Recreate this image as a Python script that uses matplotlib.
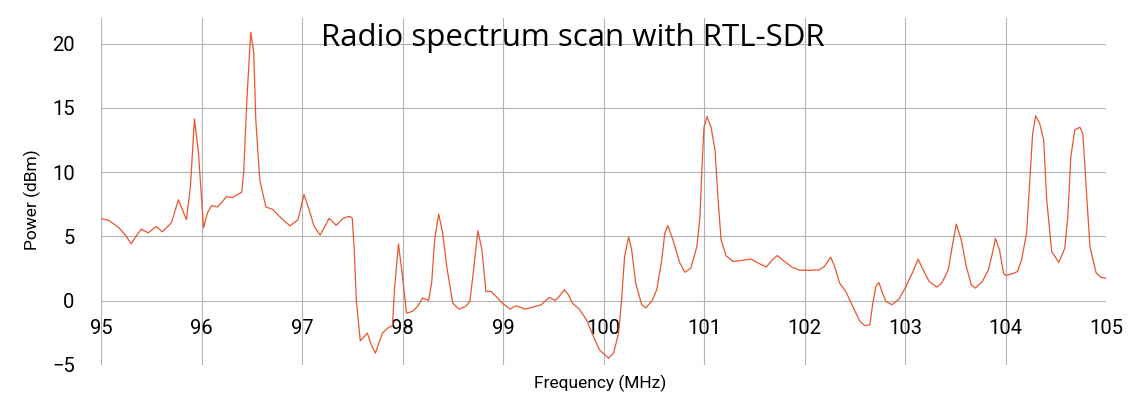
import matplotlib
matplotlib.use('Agg')
import matplotlib.pyplot as plt

# frequency (MHz) and power (dBm)
freq = [95.00, 95.08, 95.18, 95.25, 95.30, 95.35, 95.40, 95.47, 95.55, 95.61,
        95.70, 95.77, 95.85, 95.89, 95.93, 95.97, 96.02, 96.06, 96.10, 96.16,
        96.25, 96.31, 96.40, 96.42, 96.45, 96.49, 96.52, 96.54, 96.58, 96.64,
        96.71, 96.79, 96.88, 96.96, 97.02, 97.07, 97.12, 97.18, 97.22, 97.27,
        97.34, 97.41, 97.47, 97.50, 97.52, 97.54, 97.58, 97.65, 97.69, 97.73,
        97.80, 97.86, 97.90, 97.92, 97.96, 98.00, 98.04, 98.10, 98.15, 98.20,
        98.26, 98.29, 98.32, 98.36, 98.40, 98.44, 98.50, 98.56, 98.63, 98.67,
        98.70, 98.75, 98.79, 98.83, 98.88, 98.93, 99.00, 99.07, 99.13, 99.22,
        99.30, 99.38, 99.46, 99.52, 99.56, 99.61, 99.65, 99.69, 99.76, 99.83,
        99.90, 99.96, 100.05, 100.10, 100.15, 100.18, 100.21, 100.25, 100.28, 100.32,
        100.38, 100.42, 100.48, 100.53, 100.58, 100.61, 100.64, 100.69, 100.76, 100.81,
        100.87, 100.93, 100.96, 100.98, 101.00, 101.03, 101.07, 101.11, 101.14, 101.17,
        101.22, 101.29, 101.37, 101.47, 101.54, 101.62, 101.68, 101.73, 101.80, 101.88,
        101.95, 102.05, 102.15, 102.20, 102.26, 102.30, 102.35, 102.41, 102.48, 102.55,
        102.60, 102.65, 102.68, 102.71, 102.74, 102.77, 102.81, 102.87, 102.94, 103.01,
        103.08, 103.13, 103.18, 103.24, 103.32, 103.37, 103.43, 103.47, 103.51, 103.56,
        103.61, 103.66, 103.70, 103.77, 103.83, 103.87, 103.90, 103.94, 103.98, 104.00,
        104.07, 104.12, 104.16, 104.21, 104.24, 104.27, 104.30, 104.34, 104.38, 104.41,
        104.46, 104.53, 104.59, 104.62, 104.65, 104.69, 104.74, 104.77, 104.80, 104.84,
        104.90, 104.95, 105.00]
power = [6.40, 6.24, 5.67, 5.03, 4.43, 5.03, 5.57, 5.28, 5.78, 5.36,
         6.06, 7.85, 6.32, 8.90, 14.15, 11.50, 5.67, 6.84, 7.40, 7.30,
         8.10, 8.03, 8.45, 10.00, 15.40, 20.90, 19.30, 14.10, 9.40, 7.30,
         7.10, 6.45, 5.83, 6.30, 8.26, 7.10, 5.80, 5.12, 5.66, 6.42,
         5.87, 6.42, 6.57, 6.44, 3.97, 0.08, -3.12, -2.52, -3.43, -4.08,
         -2.52, -2.08, -1.95, 0.86, 4.42, 1.90, -0.96, -0.83, -0.44, 0.21,
         0.03, 1.38, 4.75, 6.75, 5.27, 2.68, -0.18, -0.65, -0.44, -0.05,
         1.90, 5.45, 3.97, 0.73, 0.73, 0.34, -0.23, -0.65, -0.39, -0.65,
         -0.49, -0.31, 0.26, 0.03, 0.34, 0.86, 0.47, -0.18, -0.65, -1.48,
         -2.78, -3.82, -4.47, -4.08, -2.52, 0.08, 3.45, 4.96, 3.97, 1.38,
         -0.31, -0.55, -0.05, 0.86, 3.19, 5.27, 5.84, 4.75, 2.93, 2.21,
         2.55, 4.23, 6.57, 10.40, 13.50, 14.33, 13.50, 11.70, 7.85, 4.74,
         3.50, 3.06, 3.13, 3.24, 2.93, 2.62, 3.19, 3.52, 3.06, 2.59,
         2.38, 2.36, 2.41, 2.67, 3.39, 2.67, 1.37, 0.73, -0.44, -1.60,
         -1.94, -1.87, -0.18, 1.11, 1.42, 0.73, -0.05, -0.31, 0.13, 1.11,
         2.28, 3.24, 2.41, 1.50, 1.06, 1.42, 2.41, 4.22, 5.96, 4.74,
         2.67, 1.24, 0.98, 1.50, 2.41, 3.70, 4.84, 3.96, 2.15, 1.97,
         2.10, 2.28, 3.19, 5.26, 9.15, 13.00, 14.38, 13.80, 12.50, 7.85,
         3.83, 2.98, 4.09, 6.55, 11.20, 13.30, 13.50, 13.00, 9.15, 4.22,
         2.20, 1.81, 1.76]

xticks = [95, 96, 97, 98, 99, 100, 101, 102, 103, 104, 105]
yticks = [-5, 0, 5, 10, 15, 20]

plt.rcParams['font.family'] = ['Roboto', 'DejaVu Sans']

fig = plt.figure(figsize=(11.46, 3.95), dpi=100)
ax = fig.add_axes([101 / 1146, 30 / 395, 1005 / 1146, 347 / 395])

ax.plot(freq, power, color='#e8562e', lw=0.9)

ax.set_xlim(95, 105)
ax.set_ylim(-5, 22.0)
ax.set_xticks(xticks)
ax.set_yticks(yticks)
ax.grid(True, color='#b4b4b4', lw=0.8)
ax.set_axisbelow(True)
for s in ax.spines.values():
    s.set_visible(False)
# x labels sit under the zero line
ax.spines['bottom'].set_position(('data', 0))
ax.tick_params(axis='both', length=0, labelsize=14.5, colors='black')
ax.tick_params(axis='x', pad=13)
ax.tick_params(axis='y', pad=19)

fig.text(600 / 1146, 1 - 388 / 395, 'Frequency (MHz)', ha='center',
         va='baseline', fontsize=12.5)
fig.text(32 / 1146, 1 - 200 / 395, 'Power (dBm)', ha='center', va='center',
         rotation=90, fontsize=12.5)
fig.text(573 / 1146, 1 - 46 / 395, 'Radio spectrum scan with RTL-SDR', ha='center',
         va='baseline', fontsize=22.5, family=['Open Sans', 'DejaVu Sans'])

fig.savefig('out.png', dpi=100, facecolor='white')
